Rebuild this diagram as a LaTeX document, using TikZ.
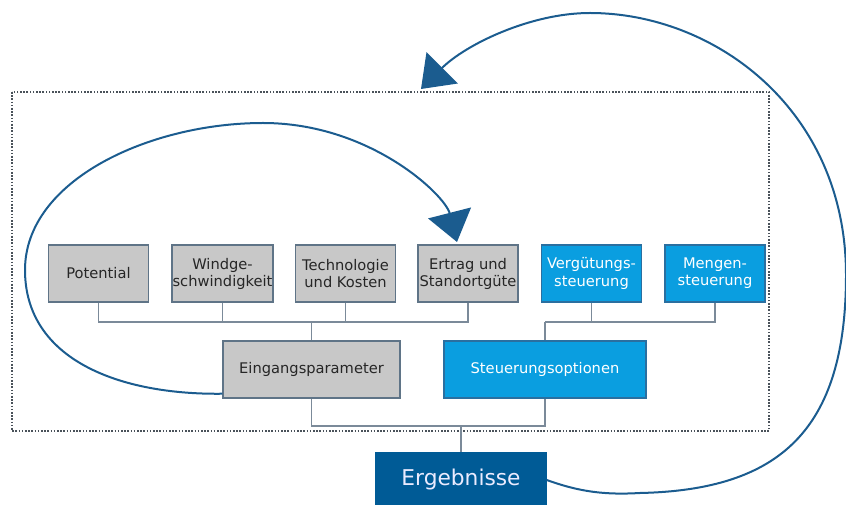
\documentclass[tikz,border=0pt]{standalone}
\usepackage{fontspec}
\setmainfont{DejaVu Sans}
\usetikzlibrary{arrows.meta}
\definecolor{grayfill}{HTML}{C8C8C8}
\definecolor{grayborder}{HTML}{5F7487}
\definecolor{bluefill}{HTML}{0A9EE0}
\definecolor{blueborder}{HTML}{2A6FA0}
\definecolor{darkfill}{HTML}{005B96}
\definecolor{conncol}{HTML}{7B8A99}
\definecolor{curvecol}{HTML}{1B5C8F}
\definecolor{framecol}{HTML}{4A525A}
\begin{document}
\begin{tikzpicture}[x=0.75pt,y=-0.75pt,
  box/.style={line width=1.1pt, minimum width=75pt, minimum height=42.75pt, align=center,
    font=\fontsize{11}{12.8}\selectfont, inner sep=0.3pt},
  graybox/.style={box, fill=grayfill, draw=grayborder, text=black!85},
  bluebox/.style={box, fill=bluefill, draw=blueborder, text=white},
  conn/.style={draw=conncol, line width=1.1pt},
  loopcurve/.style={draw=curvecol, line width=1.5pt, -{Triangle[length=22.5pt,width=33pt]}},
  frame/.style={draw=framecol, line width=1.6pt, dash pattern=on 1.2pt off 1.2pt}]
\useasboundingbox (0,0) rectangle (846,505);

% dotted frame
\draw[frame] (12,92) rectangle (769,431);

% top row
\node[graybox] (pot) at (98.5,273.5) {Potential};
\node[graybox] (win) at (222.5,273.5) {Windge-\\schwindigkeit};
\node[graybox] (tec) at (345.5,273.5) {Technologie\\und Kosten};
\node[graybox] (ert) at (468,273.5) {Ertrag und\\Standortgüte};
\node[bluebox] (ver) at (591.5,273.5) {Vergütungs-\\steuerung};
\node[bluebox] (men) at (715,273.5) {Mengen-\\steuerung};

% middle row
\node[graybox, minimum width=132.75pt] (ein) at (311.5,369.5) {Eingangsparameter};
\node[bluebox, minimum width=151.5pt] (ste) at (545,369.5) {Steuerungsoptionen};

% result
\node[box, fill=darkfill, draw=darkfill, text=white!92!blue, minimum width=127.5pt,
  minimum height=40.5pt, font=\fontsize{16.3}{19}\selectfont] (erg) at (461,480) {Ergebnisse};

% buses
\coordinate (gbus) at (311.5,322);
\coordinate (bbus) at (545,322);
\coordinate (rbus) at (461,426);
\draw[conn] (pot.south) |- (gbus);
\draw[conn] (ert.south) |- (gbus);
\draw[conn] (win.south) -- (win.south |- gbus);
\draw[conn] (tec.south) -- (tec.south |- gbus);
\draw[conn] (gbus) -- (ein.north);
\draw[conn] (ver.south) |- (bbus);
\draw[conn] (men.south) |- (bbus);
\draw[conn] (bbus) -- (ste.north);
\draw[conn] (ein.south) |- (rbus);
\draw[conn] (ste.south) |- (rbus);
\draw[conn] (rbus) -- (erg.north);

% inner loop
\coordinate (innertip) at (457,242);
\draw[loopcurve] ([yshift=3.75pt]ein.south west)
  .. controls (120,395) and (25,360) .. (25,270)
  .. controls (25,180) and (150,123) .. (263,123)
  .. controls (370,123) and (445,195) .. (innertip);

% outer loop
\coordinate (outertip) at (421,89);
\draw[loopcurve] (erg.east)
  .. controls (580,492) and (605,495) .. (640,493)
  .. controls (780,490) and (846,430) .. (846,275)
  .. controls (846,110) and (715,13) .. (590,13)
  .. controls (530,13) and (465,45) .. (outertip);
\end{tikzpicture}
\end{document}
